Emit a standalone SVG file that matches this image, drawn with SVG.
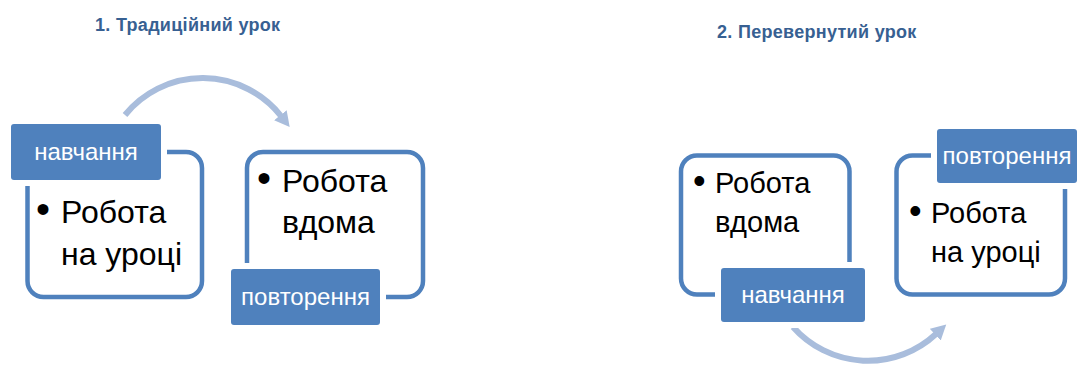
<svg xmlns="http://www.w3.org/2000/svg" width="1078" height="367" viewBox="0 0 1078 367">
<style>
.box{fill:#fff;stroke:#4F81BD;stroke-width:4.5}
.lab{fill:#4F81BD;stroke:#fff;stroke-width:12;paint-order:stroke}
.lt{font-family:"Liberation Sans",Arial,sans-serif;font-size:24px;fill:#fff;text-anchor:middle}
.bt{font-family:"Liberation Sans",Arial,sans-serif;fill:#000}
.ttl{font-family:"Liberation Sans",Arial,sans-serif;font-size:18px;font-weight:bold;fill:#376092;letter-spacing:0.3px}
.arc{fill:none;stroke:#A9BDDC;stroke-width:6}
</style>
<defs>
<marker id="ah" markerUnits="userSpaceOnUse" markerWidth="16" markerHeight="18" refX="1" refY="9" orient="auto">
<path d="M0,1 L15,9 L0,17 z" fill="#A9BDDC"/>
</marker>
</defs>
<text class="ttl" x="95" y="31">1. Традиційний урок</text>
<text class="ttl" x="717" y="38">2. Перевернутий урок</text>
<g id="connectors">
<path class="arc" d="M125,115 A100,100 0 0 1 281,116" marker-end="url(#ah)"/>
<path class="arc" d="M793,327 A100,100 0 0 0 936,334" marker-end="url(#ah)"/>
</g>
<g id="box1">
<rect class="box" x="27.5" y="152" width="174.5" height="145" rx="16"/>
<text class="bt" x="36" y="223" font-size="40">•</text>
<text class="bt" font-size="32"><tspan x="61" y="223">Робота</tspan><tspan x="61" y="265">на уроці</tspan></text>
</g>
<g id="label1">
<rect class="lab" x="11" y="124" width="150" height="56" rx="3"/>
<text class="lt" x="86" y="160">навчання</text>
</g>
<g id="box2">
<rect class="box" x="247" y="152" width="176" height="145" rx="16"/>
<text class="bt" x="257" y="192" font-size="40">•</text>
<text class="bt" font-size="32"><tspan x="282" y="192">Робота</tspan><tspan x="282" y="233">вдома</tspan></text>
</g>
<g id="label2">
<rect class="lab" x="231" y="269" width="149" height="56" rx="3"/>
<text class="lt" x="305.5" y="305">повторення</text>
</g>
<g id="box3">
<rect class="box" x="681" y="155.5" width="168.5" height="139" rx="16"/>
<text class="bt" x="693" y="193" font-size="36">•</text>
<text class="bt" font-size="29"><tspan x="715" y="193">Робота</tspan><tspan x="715" y="232">вдома</tspan></text>
</g>
<g id="label3">
<rect class="lab" x="721" y="268" width="144" height="54" rx="3"/>
<text class="lt" x="793" y="303">навчання</text>
</g>
<g id="box4">
<rect class="box" x="896.5" y="155.5" width="168.5" height="139" rx="16"/>
<text class="bt" x="909" y="223" font-size="36">•</text>
<text class="bt" font-size="29"><tspan x="931" y="223">Робота</tspan><tspan x="931" y="262">на уроці</tspan></text>
</g>
<g id="label4">
<rect class="lab" x="937" y="129" width="140" height="54" rx="3"/>
<text class="lt" x="1007" y="164">повторення</text>
</g>
</svg>
